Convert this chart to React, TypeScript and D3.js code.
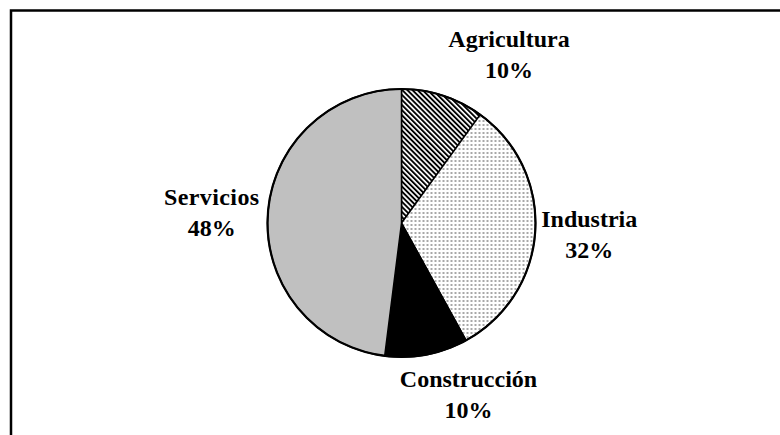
import React from "react";
import * as d3 from "d3";

const categories = ["Agricultura", "Industria", "Construcción", "Servicios"];
const values = [10, 32, 10, 48];
const percentLabels = ["10%", "32%", "10%", "48%"];

// layout (not data)
const W = 780;
const H = 435;
const CX = 401.5;
const CY = 223;
const R = 134;
const fills = ["url(#hatch)", "url(#dots)", "#000000", "#c0c0c0"];
// label offsets relative to an anchor just outside the arc: [dx, dy of first baseline]
const labelOffsets: [number, number][] = [
  [63, -39],
  [44, -5],
  [40, 23],
  [-46, -9],
];

export default function App() {
  const pie = d3.pie<number>().sort(null).value((d) => d);
  const arcs = pie(values);
  const arc = d3.arc<d3.PieArcDatum<number>>().innerRadius(0).outerRadius(R);
  const anchorArc = d3
    .arc<d3.PieArcDatum<number>>()
    .innerRadius(R + 10)
    .outerRadius(R + 10);

  return (
    <svg
      width={W}
      height={H}
      style={{ position: "absolute", left: 0, top: 0, background: "#fff" }}
    >
      <defs>
        <pattern
          id="hatch"
          patternUnits="userSpaceOnUse"
          width={3.6}
          height={3.6}
          patternTransform="rotate(-45)"
        >
          <rect x={0} y={0} width={3.6} height={3.6} fill="#fff" />
          <rect x={0} y={0} width={1.9} height={3.6} fill="#000" />
        </pattern>
        <pattern id="dots" patternUnits="userSpaceOnUse" width={4} height={4}>
          <rect x={0} y={0} width={4} height={4} fill="#fff" />
          <rect x={1} y={1} width={2} height={2} fill="#a8a8a8" />
        </pattern>
      </defs>
      <rect x={0} y={0} width={W} height={H} fill="#fff" />
      <rect
        x={11}
        y={10.5}
        width={900}
        height={600}
        fill="none"
        stroke="#000"
        strokeWidth={2.5}
      />
      <g transform={`translate(${CX},${CY})`}>
        {arcs.map((a, i) => (
          <path
            key={i}
            d={arc(a) || ""}
            fill={fills[i]}
            stroke="#000"
            strokeWidth={1.5}
            strokeLinejoin="round"
          />
        ))}
        <circle r={R} fill="none" stroke="#000" strokeWidth={2.2} />
        {arcs.map((a, i) => {
          const [ax, ay] = anchorArc.centroid(a);
          const [dx, dy] = labelOffsets[i];
          const x = ax + dx;
          const y = ay + dy;
          return (
            <text
              key={"l" + i}
              textAnchor="middle"
              fontFamily="'Liberation Serif', 'Times New Roman', serif"
              fontWeight="bold"
              fontSize={24}
              fill="#000"
              letterSpacing={i === 3 ? 0.4 : 0}
            >
              <tspan x={x} y={y}>
                {categories[i]}
              </tspan>
              <tspan x={x} y={y + 31} letterSpacing={0}>
                {percentLabels[i]}
              </tspan>
            </text>
          );
        })}
      </g>
    </svg>
  );
}
